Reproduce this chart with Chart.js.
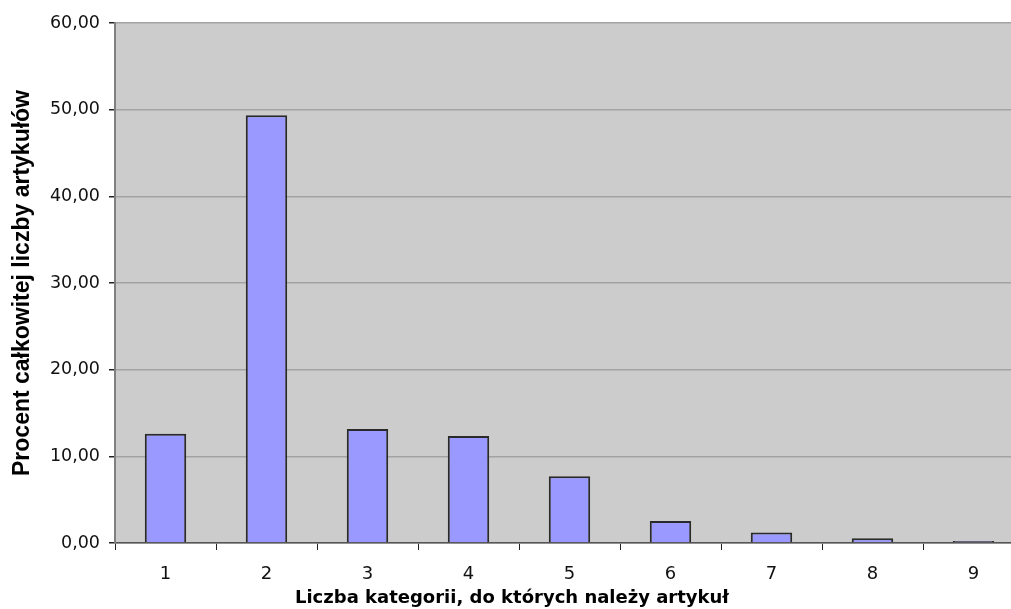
<!DOCTYPE html>
<html>
<head>
<meta charset="utf-8">
<script src="https://cdn.jsdelivr.net/npm/chart.js@4/dist/chart.umd.min.js"></script>
<style>
  html, body { margin: 0; padding: 0; background: #fff; overflow: hidden; }
  canvas { display: block; }
</style>
</head>
<body>
<!-- the original plot runs a little past the right edge of the window -->
<canvas id="myChart" width="1024" height="609"></canvas>
<script>
// values
const categories = ['1', '2', '3', '4', '5', '6', '7', '8', '9'];
const percentValues = [12.62, 49.35, 13.15, 12.35, 7.70, 2.54, 1.20, 0.54, 0.23];
const yTicks = [0, 10, 20, 30, 40, 50, 60];

const xTitle = 'Liczba kategorii, do których należy artykuł';
const yTitle = 'Procent całkowitej liczby artykułów';

// grey plot background
const plotBackground = {
  id: 'plotBackground',
  beforeDraw(chart) {
    const { ctx, chartArea } = chart;
    ctx.save();
    ctx.fillStyle = '#cccccc';
    ctx.fillRect(chartArea.left, chartArea.top, chartArea.right - chartArea.left, chartArea.bottom - chartArea.top);
    ctx.restore();
  }
};

const ctx = document.getElementById('myChart');
new Chart(ctx, {
  type: 'bar',
  data: {
    labels: categories,
    datasets: [{
      label: 'Procent',
      data: percentValues,
      backgroundColor: '#9999ff',
      borderColor: '#2a2a2a',
      borderWidth: 2,
      categoryPercentage: 1,
      barPercentage: 0.41
    }]
  },
  options: {
    responsive: false,
    animation: false,
    layout: { padding: { top: 23, left: 0, right: 0, bottom: 0 } },
    plugins: {
      legend: { display: false },
      tooltip: { enabled: false },
      // x axis title, centred on the whole picture like the original
      title: {
        display: true,
        position: 'bottom',
        text: xTitle,
        color: '#000',
        padding: { top: 0, bottom: 2 },
        font: { family: 'DejaVu Sans, sans-serif', size: 18, weight: 'bold', lineHeight: 1 }
      }
    },
    scales: {
      x: {
        afterFit: scale => { scale.height = 46; },
        grid: {
          offset: true,
          drawOnChartArea: false,
          drawTicks: true,
          tickLength: 7,
          color: '#222'
        },
        border: { color: '#555', width: 1.5 },
        ticks: {
          padding: 14,
          color: '#111',
          font: { family: 'DejaVu Sans, sans-serif', size: 18 }
        }
      },
      y: {
        min: 0,
        max: 60,
        afterFit: scale => { scale.width = 115; },
        afterBuildTicks: scale => { scale.ticks = yTicks.map(v => ({ value: v })); },
        grid: {
          color: '#a3a3a3',
          lineWidth: 1.5,
          tickColor: '#222',
          tickLength: 6
        },
        border: { color: '#808080', width: 2 },
        ticks: {
          padding: 9,
          color: '#111',
          font: { family: 'DejaVu Sans, sans-serif', size: 17.5 },
          callback: v => v.toFixed(2).replace('.', ',')
        },
        title: {
          display: true,
          text: yTitle,
          color: '#000',
          padding: { top: 9, bottom: 0 },
          font: { family: 'Liberation Sans, Arial, sans-serif', size: 23, weight: 'bold' }
        }
      }
    }
  },
  plugins: [plotBackground]
});
</script>
</body>
</html>
